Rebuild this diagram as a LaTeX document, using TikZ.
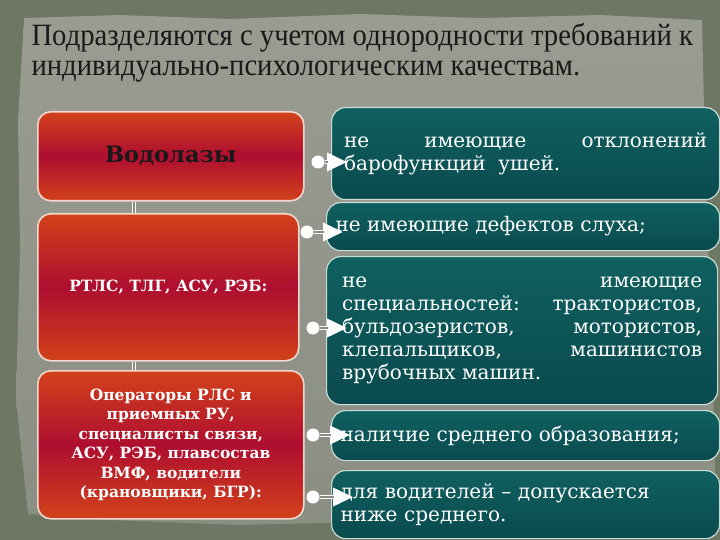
\documentclass[tikz,border=0pt]{standalone}
\usepackage{fontspec}
\setmainfont{Liberation Serif}
\newfontfamily\titlefont[FakeStretch=0.925]{Liberation Serif}
\newfontfamily\boxfont{DejaVu Serif}
\usetikzlibrary{positioning,calc,arrows.meta}

\definecolor{bgdark}{HTML}{6E7664}
\definecolor{papertop}{HTML}{9A9C91}
\definecolor{paperbot}{HTML}{8B8E82}
\definecolor{redtop}{HTML}{D2421A}
\definecolor{redmid}{HTML}{AE0E30}
\definecolor{redline}{HTML}{F4D8CE}
\definecolor{tealtop}{HTML}{106060}
\definecolor{tealbot}{HTML}{0A4A4E}
\definecolor{tealline}{HTML}{C8DCD6}
\definecolor{gapgray}{HTML}{8A8C84}

\tikzset{
  redbox/.style={rounded corners=13pt, draw=redline, line width=1.6pt,
    top color=redtop, bottom color=redtop, middle color=redmid,
    inner sep=0pt, align=center, text=white,
    font=\boxfont\bfseries\fontsize{15.5}{19.5}\selectfont},
  tealbox/.style={rounded corners=14pt, draw=tealline, line width=1.2pt,
    top color=tealtop, bottom color=tealbot, anchor=north west,
    inner sep=0pt, text=white, align=justify,
    font=\boxfont\fontsize{20}{23}\selectfont},
  dot/.style={circle, fill=white, minimum size=13pt, inner sep=0pt},
  link/.style={white, line width=3.8pt, -{Triangle[length=20pt,width=18pt]},
    postaction={draw=gapgray, line width=1.2pt, -, shorten >=19pt}},
  vlink/.style={draw=white, double=gapgray, double distance=1.4pt, line width=1pt}
}

\begin{document}
\begin{tikzpicture}[x=1pt,y=-1pt]
\useasboundingbox (0,0) rectangle (720,540);

% Background and paper
\fill[bgdark] (0,0) rectangle (720,540);
\shade[top color=papertop, bottom color=paperbot]
  (24,18) -- (120,15) -- (230,19) -- (360,14) -- (480,18) -- (600,15) -- (702,20)
  -- (705,150) -- (710,300) -- (714,420) -- (716,522) -- (560,526) -- (400,521)
  -- (240,525) -- (110,520) -- (28,514) -- (16,400) -- (20,250) -- (18,120) -- cycle;

% Title
\node[anchor=north west, align=left, text=black!90,
  font=\titlefont\fontsize{31}{30}\selectfont] (title) at (28,20)
  {Подразделяются с учетом однородности требований к\\индивидуально-психологическим качествам.};

% Left boxes
\node[redbox, minimum width=266, minimum height=89, anchor=north west,
  text=black!90, font=\boxfont\bfseries\fontsize{22.5}{24}\selectfont] (vod) at (37,111) {Водолазы};
\node[redbox, minimum width=261, minimum height=147, anchor=north west] (rtls) at (37,213)
  {РТЛС, ТЛГ, АСУ, РЭБ:};
\node[redbox, minimum width=266, minimum height=148, anchor=north west] (oper) at (37,370)
  {Операторы РЛС и\\приемных РУ,\\специалисты связи,\\АСУ, РЭБ, плавсостав\\ВМФ, водители\\(крановщики, БГР):};

% Vertical links
\draw[vlink] ([xshift=-37pt]vod.south) -- ([xshift=-34.5pt]rtls.north);
\draw[vlink] ([xshift=-34.5pt]rtls.south) -- ([xshift=-37pt]oper.north);

% Right boxes
\node[tealbox, minimum width=388, minimum height=92, text width=363] (t1) at (331,107)
  {\hspace*{0pt}не имеющие отклонений\linebreak барофункций\ \ ушей.};
\node[tealbox, minimum width=393, minimum height=48, text width=375] (t2) at (326,202)
  {не имеющие дефектов слуха;};
\node[tealbox, minimum width=391, minimum height=148, text width=360] (t3) at (326,256)
  {не имеющие\linebreak специальностей: трактористов,\linebreak бульдозеристов, мотористов,\linebreak клепальщиков, машинистов\linebreak врубочных машин.};
\node[tealbox, minimum width=388, minimum height=50, text width=370] (t4) at (331,410)
  {наличие среднего образования;};
\node[tealbox, minimum width=388, minimum height=68, text width=370, align=left] (t5) at (331,470)
  {для водителей – допускается\\ниже среднего.};

% Dots
\node[dot] (d1) at (318,162) {};
\node[dot] (d2) at (307,232) {};
\node[dot] (d3) at (313,328) {};
\node[dot] (d4) at (313,435) {};
\node[dot] (d5) at (313,497) {};

% Arrows
\draw[link] (d1) -- ($(d1 -| t1.west)+(16,0)$);
\draw[link] (d2) -- ($(d2 -| t2.west)+(17,0)$);
\draw[link] (d3) -- ($(d3 -| t3.west)+(21,0)$);
\draw[link] (d4) -- ($(d4 -| t4.west)+(19,0)$);
\draw[link] (d5) -- ($(d5 -| t5.west)+(22,0)$);

\end{tikzpicture}
\end{document}
